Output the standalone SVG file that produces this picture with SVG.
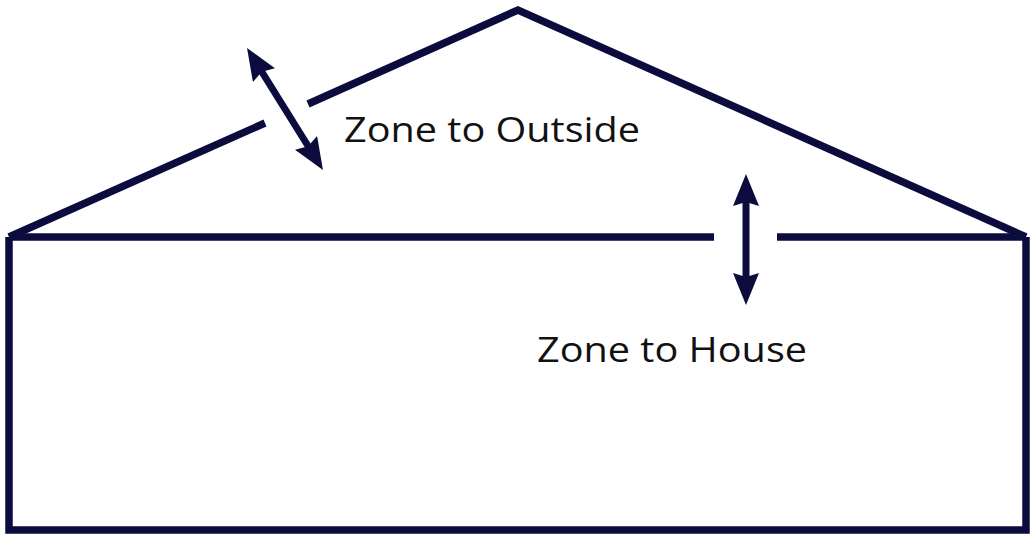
<svg xmlns="http://www.w3.org/2000/svg" width="1030" height="534" viewBox="0 0 1030 534">
<style>
.wall{fill:none;stroke:#0b0b3d;stroke-width:7.5;stroke-linejoin:miter}
.arr{fill:none;stroke:#0b0b3d;stroke-width:7;marker-start:url(#ah);marker-end:url(#ah)}
.lbl{font-family:"Open Sans","Liberation Sans",sans-serif;font-size:35px;fill:#111}
</style>
<defs>
<marker id="ah" markerUnits="userSpaceOnUse" markerWidth="40" markerHeight="30" refX="12" refY="13" orient="auto-start-reverse">
<path d="M0,0 L32,13 L0,26 L4,13 z" fill="#0b0b3d"/>
</marker>
</defs>
<rect width="1030" height="534" fill="#fff"/>
<g id="house">
<polyline class="wall" points="9,237 9,530 1026,530 1026,237"/>
<polyline class="wall" points="265,123 9,237"/>
<polyline class="wall" points="308,104 518,10 1026,237"/>
<line class="wall" x1="9" y1="237" x2="714" y2="237"/>
<line class="wall" x1="777" y1="237" x2="1026" y2="237"/>
</g>
<g id="connectors">
<line class="arr" x1="257.6" y1="65" x2="312.4" y2="153"/>
<line class="arr" x1="746" y1="194" x2="746" y2="285"/>
</g>
<g id="label-outside">
<text class="lbl" x="344" y="142" textLength="296" lengthAdjust="spacingAndGlyphs">Zone to Outside</text>
</g>
<g id="label-house">
<text class="lbl" x="537" y="362" textLength="270" lengthAdjust="spacingAndGlyphs">Zone to House</text>
</g>
</svg>
